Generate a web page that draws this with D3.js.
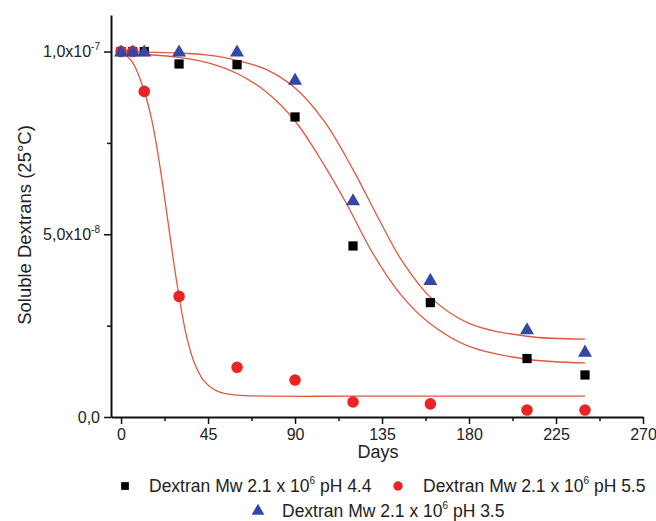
<!DOCTYPE html>
<html>
<head>
<meta charset="utf-8">
<script src="https://cdn.jsdelivr.net/npm/d3@7"></script>
<style>
  body { margin: 0; background: #fff; }
  text { font-family: Arial, "Liberation Sans", sans-serif; fill: #222; }
</style>
</head>
<body>
<div id="content"></div>
<script>
const width = 656;
const height = 521;

// values in units of 1e-7
const days = [0, 6, 12, 30, 60, 90, 120, 160, 210, 240];
const ph44 = [1.0, 1.0, 1.0, 0.966, 0.964, 0.821, 0.468, 0.313, 0.160, 0.115];
const ph55 = [1.0, 1.0, 0.891, 0.330, 0.136, 0.101, 0.041, 0.036, 0.019, 0.019];
const ph35 = [1.0, 1.0, 1.0, 1.0, 1.0, 0.923, 0.593, 0.375, 0.240, 0.179];

// fitted curves: [day, value]
const fit44 = [[0, 0.996], [30, 0.984], [45, 0.969], [60, 0.94], [75, 0.89], [90, 0.81],
    [105, 0.69], [117, 0.58], [130, 0.45], [145, 0.333], [160, 0.255], [180, 0.193],
    [210, 0.158], [240, 0.148]];
const fit55 = [[0, 1.0], [6, 0.97], [12, 0.892], [16, 0.81], [20, 0.69], [24, 0.545],
    [27, 0.432], [30, 0.33], [34, 0.218], [38, 0.147], [43, 0.098], [50, 0.07],
    [60, 0.06], [80, 0.057], [120, 0.057], [240, 0.057]];
const fit35 = [[0, 1.0], [30, 0.996], [45, 0.99], [60, 0.976], [75, 0.951], [90, 0.9],
    [105, 0.81], [120, 0.677], [134, 0.535], [145, 0.43], [160, 0.328], [180, 0.256],
    [210, 0.221], [240, 0.213]];

const xTicks = [0, 45, 90, 135, 180, 225, 270];
const xMinor = [22.5, 67.5, 112.5, 157.5, 202.5, 247.5];
const yTicks = [0, 0.5, 1.0];
const yMinor = [0.25, 0.75];
const yTickLabels = [['0,0', ''], ['5,0x10', '-8'], ['1,0x10', '-7']];

const legendLabels = ['pH 4.4', 'pH 5.5', 'pH 3.5'];

const fig = d3.select('#content')
    .append('svg')
    .attr('width', width)
    .attr('height', height);

fig.append('rect')
    .attr('width', width)
    .attr('height', height)
    .attr('fill', '#fff');

const x = d3.scaleLinear().domain([-5.2, 270]).range([111, 643]);
const y = d3.scaleLinear().domain([0, 1.1]).range([417, 15]);

// axes
const xAxis = fig.append('g')
    .attr('transform', `translate(0,${y(0)})`)
    .call(d3.axisBottom(x).tickValues(xTicks).tickSize(7).tickSizeOuter(0).tickPadding(5));
fig.append('g')
    .attr('transform', `translate(0,${y(0)})`)
    .call(d3.axisBottom(x).tickValues(xMinor).tickSize(4).tickFormat(''))
    .call(g => g.select('.domain').remove());

const yAxis = fig.append('g')
    .attr('transform', `translate(${x(-5.2)},0)`)
    .call(d3.axisLeft(y).tickValues(yTicks).tickSize(7).tickSizeOuter(0).tickPadding(4));
fig.append('g')
    .attr('transform', `translate(${x(-5.2)},0)`)
    .call(d3.axisLeft(y).tickValues(yMinor).tickSize(4).tickFormat(''))
    .call(g => g.select('.domain').remove());

fig.selectAll('.domain').attr('stroke', '#111').attr('stroke-width', 2);
fig.selectAll('.tick line').attr('stroke', '#111').attr('stroke-width', 1.5);

xAxis.selectAll('text')
    .style('font-size', '16px')
    .style('fill', '#222');

yAxis.selectAll('.tick text')
    .style('font-size', '16px')
    .style('fill', '#222')
    .text(null)
    .each(function(d, i) {
        const t = d3.select(this);
        t.append('tspan').text(yTickLabels[i][0]);
        if (yTickLabels[i][1]) {
            t.append('tspan')
                .attr('dy', '-7')
                .style('font-size', '10px')
                .text(yTickLabels[i][1]);
        }
    });

// axis titles
fig.append('text')
    .attr('x', 378)
    .attr('y', 458)
    .attr('text-anchor', 'middle')
    .style('font-size', '18px')
    .text('Days');

fig.append('text')
    .attr('transform', 'translate(31,225) rotate(-90)')
    .attr('text-anchor', 'middle')
    .style('font-size', '18.5px')
    .text('Soluble Dextrans (25°C)');

// fit lines
const line = d3.line()
    .x(d => x(d[0]))
    .y(d => y(d[1]))
    .curve(d3.curveCatmullRom);

[fit44, fit55, fit35].forEach(f => {
    fig.append('path')
        .datum(f)
        .attr('d', line)
        .attr('fill', 'none')
        .attr('stroke', '#e2583f')
        .attr('stroke-width', 1.3);
});

// markers
const sq = d3.symbol().type(d3.symbolSquare).size(85);
const ci = d3.symbol().type(d3.symbolCircle).size(105);
const tr = d3.symbol().type(d3.symbolTriangle).size(85);

fig.append('g')
    .selectAll('path')
    .data(days.map((d, i) => [d, ph44[i]]))
    .join('path')
    .attr('d', sq)
    .attr('transform', d => `translate(${x(d[0])},${y(d[1])})`)
    .attr('fill', '#000');

fig.append('g')
    .selectAll('path')
    .data(days.map((d, i) => [d, ph55[i]]))
    .join('path')
    .attr('d', ci)
    .attr('transform', d => `translate(${x(d[0])},${y(d[1])})`)
    .attr('fill', '#ea2424');

fig.append('g')
    .selectAll('path')
    .data(days.map((d, i) => [d, ph35[i]]))
    .join('path')
    .attr('d', tr)
    .attr('transform', d => `translate(${x(d[0])},${y(d[1]) + 1})`)
    .attr('fill', '#3446a6');

// legend
const legendItems = [
    {sym: d3.symbol().type(d3.symbolSquare).size(60), color: '#000', mx: 125, my: 486, tx: 149, ty: 492},
    {sym: d3.symbol().type(d3.symbolCircle).size(70), color: '#ea2424', mx: 398, my: 486, tx: 423, ty: 492},
    {sym: d3.symbol().type(d3.symbolTriangle).size(70), color: '#3446a6', mx: 258, my: 511, tx: 282, ty: 517}
];

legendItems.forEach((it, i) => {
    fig.append('path')
        .attr('d', it.sym)
        .attr('transform', `translate(${it.mx},${it.my})`)
        .attr('fill', it.color);
    const t = fig.append('text')
        .attr('x', it.tx)
        .attr('y', it.ty)
        .style('font-size', '17.5px');
    t.append('tspan').text('Dextran Mw 2.1 x 10');
    t.append('tspan').attr('dy', '-8').style('font-size', '10px').text('6');
    t.append('tspan').attr('dy', '8').text(' ' + legendLabels[i]);
});
</script>
</body>
</html>
